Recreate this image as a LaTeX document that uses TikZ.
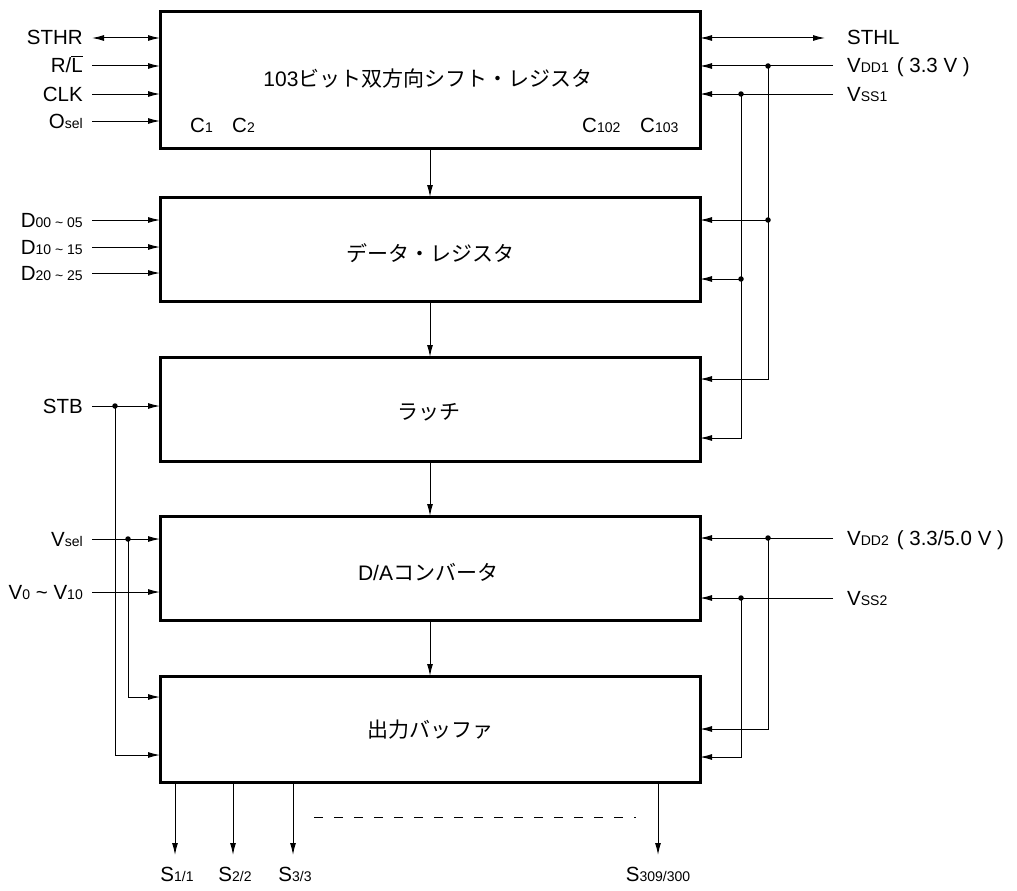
\documentclass[tikz,border=0pt]{standalone}
\usepackage{fontspec}
\setmainfont{Liberation Sans}
\newfontfamily\cjk{Noto Sans CJK JP}
\usetikzlibrary{arrows.meta}
\newcommand\sbs[1]{{\fontsize{14}{14}\selectfont #1}}
\newcommand\ovl[1]{\setbox0\hbox{#1}\rlap{\rule[16.5pt]{\wd0}{0.9pt}}#1}
\begin{document}
\begin{tikzpicture}[x=1pt,y=-1pt,
  font=\fontsize{20.5}{24}\selectfont,
  blk/.style={draw,line width=3pt,minimum width=540pt,inner sep=0pt,outer sep=0pt},
  ttl/.style={inner sep=0pt,font=\fontsize{21}{24}\selectfont},
  wire/.style={line width=1pt},
  arr/.style={wire,-{Latex[length=12pt,width=6pt]}},
  barr/.style={wire,{Latex[length=12pt,width=6pt]}-{Latex[length=12pt,width=6pt]}},
  dot/.style={circle,fill,inner sep=0pt,minimum size=5.5pt},
  lblL/.style={anchor=base east,inner sep=0pt},
  lblR/.style={anchor=base west,inner sep=0pt},
  lblB/.style={anchor=base,inner sep=0pt},
]
\useasboundingbox (0,0) rectangle (1017,891);

% blocks
\node[blk,minimum height=136pt] (b1) at (430,80) {};
\node[blk,minimum height=104pt] (b2) at (430,249) {};
\node[blk,minimum height=104pt] (b3) at (430,409) {};
\node[blk,minimum height=104pt] (b4) at (430,568) {};
\node[blk,minimum height=106pt] (b5) at (430,729) {};
\node[ttl] (t1) at (428,79) {103{\cjk ビット双方向シフト・レジスタ}};
\node[ttl] (t2) at (430,253) {\cjk データ・レジスタ};
\node[ttl] (t3) at (429,412) {\cjk ラッチ};
\node[ttl] (t4) at (428,572) {D/A{\cjk コンバータ}};
\node[ttl] (t5) at (430,730) {\cjk 出力バッファ};

% cell labels
\node[lblR] (c1) at (190,132) {C\sbs{1}};
\node[lblR] (c2) at (232,132) {C\sbs{2}};
\node[lblR] (c102) at (582,132) {C\sbs{102}};
\node[lblR] (c103) at (640,132) {C\sbs{103}};

% block to block
\draw[arr] (b1.south) -- (b2.north);
\draw[arr] (b2.south) -- (b3.north);
\draw[arr] (b3.south) -- (b4.north);
\draw[arr] (b4.south) -- (b5.north);

% left inputs of b1
\coordinate (pSTHR) at (92,38);
\coordinate (pRL) at (92,66);
\coordinate (pCLK) at (92,94);
\coordinate (pOsel) at (92,121);
\node[lblL] (lSTHR) at (83,45) {STHR};
\node[lblL] (lRL) at (83,73) {R/\ovl{L}};
\node[lblL] (lCLK) at (83,101) {CLK};
\node[lblL] (lOsel) at (83,128) {O\sbs{sel}};
\draw[barr] (pSTHR) -- (pSTHR -| b1.west);
\draw[arr] (pRL) -- (pRL -| b1.west);
\draw[arr] (pCLK) -- (pCLK -| b1.west);
\draw[arr] (pOsel) -- (pOsel -| b1.west);

% right of b1
\coordinate (pSTHL) at (825,38);
\coordinate (pVDD1) at (833,66);
\coordinate (pVSS1) at (833,94);
\node[lblR] (lSTHL) at (847,45) {STHL};
\node[lblR] (lVDD1) at (847,73) {V\sbs{DD1}\hspace{8pt}( 3.3 V )};
\node[lblR] (lVSS1) at (847,101) {V\sbs{SS1}};
\draw[barr] (pSTHL -| b1.east) -- (pSTHL);
\node[dot] (dA1) at (768,66) {};
\node[dot] (dB1) at (741,94) {};
\draw[arr] (pVDD1) -- (pVDD1 -| b1.east);
\draw[arr] (pVSS1) -- (pVSS1 -| b1.east);
\node[dot] (dA2) at (768,220) {};
\node[dot] (dB2) at (741,279) {};
\draw[wire] (dA1.center) -- (dA2.center);
\draw[wire] (dB1.center) -- (dB2.center);
\draw[arr] (dA2.center) -- (dA2 -| b2.east);
\draw[arr] (dB2.center) -- (dB2 -| b2.east);
\draw[arr] (dA2.center) |- ([yshift=30pt]b3.east);
\draw[arr] (dB2.center) |- ([yshift=-29pt]b3.east);

% left inputs of b2
\coordinate (pD0) at (92,220);
\coordinate (pD1) at (92,247);
\coordinate (pD2) at (92,273);
\node[lblL] (lD0) at (83,227) {D\sbs{00 \textasciitilde\ 05}};
\node[lblL] (lD1) at (83,254) {D\sbs{10 \textasciitilde\ 15}};
\node[lblL] (lD2) at (83,280) {D\sbs{20 \textasciitilde\ 25}};
\draw[arr] (pD0) -- (pD0 -| b2.west);
\draw[arr] (pD1) -- (pD1 -| b2.west);
\draw[arr] (pD2) -- (pD2 -| b2.west);

% STB
\coordinate (pSTB) at (92,406);
\node[lblL] (lSTB) at (83,413) {STB};
\node[dot] (dS) at (115,406) {};
\draw[arr] (pSTB) -- (pSTB -| b3.west);
\draw[arr] (dS.center) |- ([yshift=-26pt]b5.west);

% Vsel, V0~V10
\coordinate (pVsel) at (92,539);
\coordinate (pV0) at (92,592);
\node[lblL] (lVsel) at (83,546) {V\sbs{sel}};
\node[lblL] (lV0) at (83,599) {V\sbs{0} \textasciitilde\ V\sbs{10}};
\node[dot] (dV) at (128,539) {};
\draw[arr] (pVsel) -- (pVsel -| b4.west);
\draw[arr] (pV0) -- (pV0 -| b4.west);
\draw[arr] (dV.center) |- ([yshift=32pt]b5.west);

% VDD2, VSS2
\coordinate (pVDD2) at (833,538);
\coordinate (pVSS2) at (833,598);
\node[lblR] (lVDD2) at (847,545) {V\sbs{DD2}\hspace{8pt}( 3.3/5.0 V )};
\node[lblR] (lVSS2) at (847,605) {V\sbs{SS2}};
\node[dot] (dC) at (768,538) {};
\node[dot] (dD) at (741,598) {};
\draw[arr] (pVDD2) -- (pVDD2 -| b4.east);
\draw[arr] (pVSS2) -- (pVSS2 -| b4.east);
\draw[arr] (dC.center) |- (b5.east);
\draw[arr] (dD.center) |- ([yshift=-28pt]b5.east);

% outputs
\coordinate (o1) at (175,855);
\coordinate (o2) at (233,855);
\coordinate (o3) at (293,855);
\coordinate (o4) at (658,855);
\draw[arr] (o1 |- b5.south) -- (o1);
\draw[arr] (o2 |- b5.south) -- (o2);
\draw[arr] (o3 |- b5.south) -- (o3);
\draw[arr] (o4 |- b5.south) -- (o4);
\coordinate (dl1) at (314,817);
\coordinate (dl2) at (636,817);
\draw[wire,dash pattern=on 9pt off 11pt] (dl1) -- (dl2);
\node[lblB] (s1) at (177,881) {S\sbs{1/1}};
\node[lblB] (s2) at (235,881) {S\sbs{2/2}};
\node[lblB] (s3) at (295,881) {S\sbs{3/3}};
\node[lblB] (s4) at (658,881) {S\sbs{309/300}};
\end{tikzpicture}
\end{document}
